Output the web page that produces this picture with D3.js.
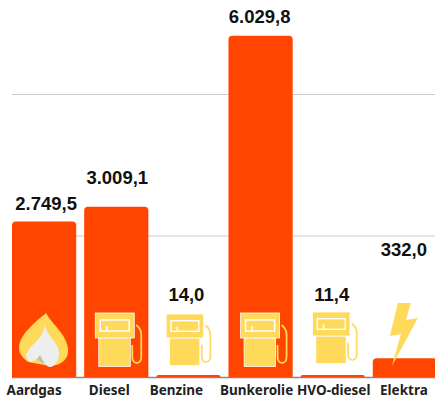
<!DOCTYPE html>
<html>
<head>
<meta charset="utf-8">
<script src="https://cdn.jsdelivr.net/npm/d3@7"></script>
<style>
html, body { margin: 0; padding: 0; background: #fff; }
svg { display: block; }
.value { font-family: "Liberation Sans", Arial, sans-serif; font-weight: 700; font-size: 18.5px; fill: #111; text-anchor: middle; }
.cat { font-family: "Noto Sans", sans-serif; font-weight: 700; font-size: 13.5px; fill: #222; text-anchor: middle; }
</style>
</head>
<body>
<svg id="chart"></svg>
<script>
const categories = ["Aardgas", "Diesel", "Benzine", "Bunkerolie", "HVO-diesel", "Elektra"];
const values = [2749.5, 3009.1, 14.0, 6029.8, 11.4, 332.0];
const valueLabels = ["2.749,5", "3.009,1", "14,0", "6.029,8", "11,4", "332,0"];
const gridTicks = [0, 2500, 5000];
const icons = ["flame", "pump", "pump", "pump", "pump", "bolt"];

const width = 435;
const height = 400;
const baseY = 377;

// nudges to line the text up with the original, the labels there are not centred on the bars
const catShift = [-10, -7, -12, -4, 1, -1];
const valueShift = [2, 1, -2, -1, -1, -1];
const valueBaseline = [210, 184, 301, 23, 301, 256];

const orange = "#ff4500";
const yellow = "#ffd95a";

const x = d3.scaleBand()
    .domain(categories)
    .range([12, 437])
    .paddingInner(0.11);

const y = d3.scaleLinear()
    .domain([0, 5000])
    .range([baseY, 94]);

const svg = d3.select("#chart").attr("width", width).attr("height", height);

// gridlines
const grid = svg.append("g")
    .attr("transform", "translate(12,0)")
    .call(d3.axisLeft(y).tickValues(gridTicks).tickSize(-(width - 12)).tickFormat(""));
grid.select(".domain").remove();
grid.selectAll(".tick line")
    .attr("stroke", d => d === 0 ? "#888" : "#ccc")
    .attr("stroke-width", d => d === 0 ? 1.5 : 1);

// bars, only the top corners are rounded
function barPath(d) {
    const x0 = x(d.cat);
    const w = x.bandwidth();
    const top = Math.min(y(d.value), baseY - 2);
    const r = Math.min(4, baseY - top);
    return `M${x0},${baseY}V${top + r}Q${x0},${top} ${x0 + r},${top}H${x0 + w - r}Q${x0 + w},${top} ${x0 + w},${top + r}V${baseY}Z`;
}

const data = categories.map((cat, i) => ({ cat, value: values[i], icon: icons[i], i }));

svg.append("g").selectAll("path")
    .data(data)
    .enter().append("path")
    .attr("d", barPath)
    .attr("fill", orange);

// icons, drawn around the middle of their bar
function drawPump(g) {
    g.append("path")
        .attr("d", "M21,12C25,15 26,18 26,22V44C26,52 17,52 17,44V32")
        .attr("fill", "none")
        .attr("stroke", yellow)
        .attr("stroke-width", 1.8);
    g.append("rect")
        .attr("x", -16.5).attr("y", 25).attr("width", 31.5).attr("height", 28.5)
        .attr("fill", yellow).attr("stroke", "#fff").attr("stroke-width", 0.8);
    g.append("rect")
        .attr("x", -20).attr("y", 0).attr("width", 39).attr("height", 25)
        .attr("fill", yellow).attr("stroke", "#fff").attr("stroke-width", 0.8);
    g.append("rect")
        .attr("x", -15).attr("y", 7).attr("width", 29).attr("height", 11)
        .attr("fill", yellow).attr("stroke", "#fff").attr("stroke-width", 1.5);
    g.append("path")
        .attr("d", "M-8.5,18V13")
        .attr("stroke", "#fff")
        .attr("stroke-width", 1.5);
}

function drawFlame(g) {
    g.append("path")
        .attr("d", "M2,0C8,12 24,22 24,38C24,48 14,53 6,53L-16,49C-21,45 -25,41 -25,35C-25,22 -10,10 2,0Z")
        .attr("fill", yellow);
    g.append("path")
        .attr("d", "M-4,42L-7,46L-2,50L2,50Z")
        .attr("fill", "#bdbdbd");
    g.append("path")
        .attr("d", "M1,12C3,24 15,30 15,40C15,48 10,54 6,54C2,54 -1,48 -4,42C-7,46 -11,49 -13,49C-16,49 -18,45 -18,42C-15,32 -2,28 1,12Z")
        .attr("fill", "#eeeeee");
}

function drawBolt(g) {
    g.append("path")
        .attr("d", "M-7,0H6L1,17L13,15L-13,63L-4,31L-15,33Z")
        .attr("fill", yellow);
}

const iconSpots = [
    { dx: 0, top: 313, k: 1 },
    { dx: -1, top: 313, k: 1 },
    { dx: -3, top: 314, k: 0.96 },
    { dx: 0, top: 313, k: 1 },
    { dx: -1, top: 312, k: 0.96 },
    { dx: 0, top: 303, k: 1 }
];

data.forEach(d => {
    const s = iconSpots[d.i];
    const g = svg.append("g")
        .attr("transform", `translate(${x(d.cat) + x.bandwidth() / 2 + s.dx},${s.top}) scale(${s.k})`);
    if (d.icon === "pump") drawPump(g);
    if (d.icon === "flame") drawFlame(g);
    if (d.icon === "bolt") drawBolt(g);
});

// value labels
svg.append("g").selectAll("text")
    .data(data)
    .enter().append("text")
    .attr("class", "value")
    .attr("x", d => x(d.cat) + x.bandwidth() / 2 + valueShift[d.i])
    .attr("y", d => valueBaseline[d.i])
    .text(d => valueLabels[d.i]);

// category labels
svg.append("g").selectAll("text")
    .data(data)
    .enter().append("text")
    .attr("class", "cat")
    .attr("x", d => x(d.cat) + x.bandwidth() / 2 + catShift[d.i])
    .attr("y", 395)
    .text(d => d.cat);
</script>
</body>
</html>
